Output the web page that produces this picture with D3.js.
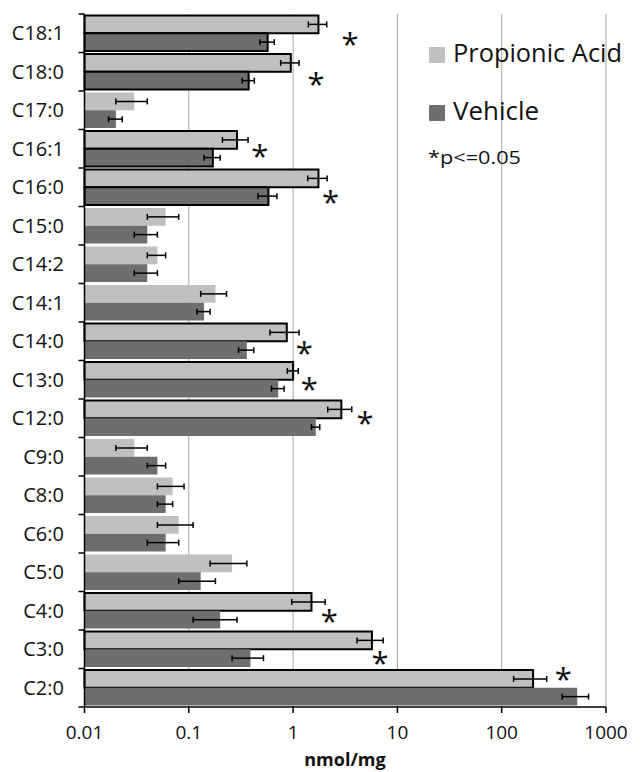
<!DOCTYPE html>
<html>
<head>
<meta charset="utf-8">
<script src="https://cdn.jsdelivr.net/npm/d3@7"></script>
<style>
  body { margin: 0; background: #fff; }
  text { font-family: "Open Sans", sans-serif; }
</style>
</head>
<body>
<script>
// categories top to bottom
var categories = ["C18:1","C18:0","C17:0","C16:1","C16:0","C15:0","C14:2","C14:1","C14:0",
                  "C13:0","C12:0","C9:0","C8:0","C6:0","C5:0","C4:0","C3:0","C2:0"];
// Propionic Acid
var paMean = [1.75, 0.95, 0.030, 0.29, 1.75, 0.060, 0.050, 0.18, 0.87,
              1.0, 2.9, 0.030, 0.070, 0.080, 0.26, 1.5, 5.7, 200];
var paErr  = [0.35, 0.19, 0.010, 0.08, 0.37, 0.020, 0.010, 0.05, 0.27,
              0.12, 0.75, 0.010, 0.020, 0.030, 0.10, 0.53, 1.6, 70];
var paOutlined = [1,1,0,1,1,0,0,0,1, 1,1,0,0,0,0,1,1,1];
// Vehicle
var vhMean = [0.57, 0.375, 0.020, 0.17, 0.58, 0.040, 0.040, 0.14, 0.36,
              0.72, 1.65, 0.050, 0.060, 0.060, 0.13, 0.20, 0.39, 530];
var vhErr  = [0.09, 0.05, 0.003, 0.03, 0.12, 0.010, 0.010, 0.02, 0.06,
              0.10, 0.15, 0.010, 0.010, 0.020, 0.05, 0.09, 0.13, 150];
var vhOutlined = [1,1,0,1,1,0,0,0,0, 0,0,0,0,0,0,0,0,0];
// significance markers: category, x position (nmol/mg), vertical place in band (0-1)
var starCats = ["C18:1","C18:0","C16:1","C16:0","C14:0","C13:0","C12:0","C4:0","C3:0","C2:0"];
var starX    = [3.51, 1.66, 0.48, 2.29, 1.28, 1.43, 4.89, 2.22, 6.81, 389];
var starPos  = [0.62, 0.66, 0.53, 0.73, 0.64, 0.58, 0.46, 0.61, 0.69, 0.12];

var xTicks = [0.01, 0.1, 1, 10, 100, 1000];
var seriesNames = ["Propionic Acid", "Vehicle"];
var colors = ["#c0c0c0", "#6e6e6e"];

var width = 640, height = 772;
var plotLeft = 84.5, plotRight = 606, plotTop = 14, plotBottom = 707;

var svg = d3.select("body").append("svg")
    .attr("width", width)
    .attr("height", height);

var x = d3.scaleLog().domain([0.01, 1000]).range([plotLeft, plotRight]);
var y = d3.scaleBand().domain(categories).range([plotTop, plotBottom]).padding(0);
var sub = d3.scaleBand().domain([0, 1]).range([1.5, y.bandwidth() - 1.5]).padding(0);

/* gridlines */
svg.append("g").selectAll("line")
    .data(xTicks.slice(1))
    .enter().append("line")
    .attr("x1", function(d) { return x(d); })
    .attr("x2", function(d) { return x(d); })
    .attr("y1", plotTop)
    .attr("y2", plotBottom)
    .attr("stroke", "#a6a6a6")
    .attr("stroke-width", 1);

/* bars */
var rows = categories.map(function(c, i) {
    return [
	{cat: c, s: 0, v: paMean[i], e: paErr[i], o: paOutlined[i]},
	{cat: c, s: 1, v: vhMean[i], e: vhErr[i], o: vhOutlined[i]}
    ];
});
var flat = d3.merge(rows);

svg.append("g").selectAll("rect")
    .data(flat)
    .enter().append("rect")
    .attr("x", x(0.01))
    .attr("y", function(d) { return y(d.cat) + sub(d.s); })
    .attr("width", function(d) { return x(d.v) - x(0.01); })
    .attr("height", sub.bandwidth())
    .attr("fill", function(d) { return colors[d.s]; })
    .attr("stroke", function(d) { return d.o ? "#000" : "none"; })
    .attr("stroke-width", 2);

/* error bars */
var eb = svg.append("g").attr("stroke", "#000").attr("stroke-width", 1.5);
flat.forEach(function(d) {
    var cy = y(d.cat) + sub(d.s) + sub.bandwidth() / 2;
    var x1 = x(d.v - d.e), x2 = x(d.v + d.e);
    eb.append("line").attr("x1", x1).attr("x2", x2).attr("y1", cy).attr("y2", cy);
    eb.append("line").attr("x1", x1).attr("x2", x1).attr("y1", cy - 3).attr("y2", cy + 3);
    eb.append("line").attr("x1", x2).attr("x2", x2).attr("y1", cy - 3).attr("y2", cy + 3);
});

/* asterisks */
svg.append("g").selectAll("text")
    .data(starCats)
    .enter().append("text")
    .attr("x", function(d, i) { return x(starX[i]); })
    .attr("y", function(d, i) { return y(d) + starPos[i] * y.bandwidth() + 17; })
    .attr("text-anchor", "middle")
    .attr("font-size", 31)
    .attr("fill", "#111")
    .text("*");

/* y axis */
svg.append("line")
    .attr("x1", plotLeft).attr("x2", plotLeft)
    .attr("y1", plotTop).attr("y2", plotBottom)
    .attr("stroke", "#000").attr("stroke-width", 1.5);
svg.append("g").selectAll("line")
    .data(categories.concat(["end"]))
    .enter().append("line")
    .attr("x1", plotLeft - 6).attr("x2", plotLeft)
    .attr("y1", function(d, i) { return plotTop + i * y.bandwidth(); })
    .attr("y2", function(d, i) { return plotTop + i * y.bandwidth(); })
    .attr("stroke", "#000").attr("stroke-width", 1.5);
svg.append("g").selectAll("text")
    .data(categories)
    .enter().append("text")
    .attr("x", 64)
    .attr("y", function(d) { return y(d) + y.bandwidth() / 2 + 7; })
    .attr("text-anchor", "end")
    .attr("font-size", 20)
    .attr("fill", "#111")
    .text(function(d) { return d; });

/* x axis */
svg.append("line")
    .attr("x1", plotLeft).attr("x2", plotRight)
    .attr("y1", plotBottom).attr("y2", plotBottom)
    .attr("stroke", "#000").attr("stroke-width", 1.5);
svg.append("g").selectAll("line")
    .data(xTicks)
    .enter().append("line")
    .attr("x1", function(d) { return x(d); })
    .attr("x2", function(d) { return x(d); })
    .attr("y1", plotBottom).attr("y2", plotBottom + 6)
    .attr("stroke", "#000").attr("stroke-width", 1.5);
svg.append("g").selectAll("text")
    .data(xTicks)
    .enter().append("text")
    .attr("x", function(d) { return x(d); })
    .attr("y", 739)
    .attr("text-anchor", "middle")
    .attr("font-size", 19)
    .attr("fill", "#111")
    .text(function(d) { return String(d); });
svg.append("text")
    .attr("x", 345)
    .attr("y", 766)
    .attr("text-anchor", "middle")
    .attr("font-size", 18)
    .attr("font-weight", "bold")
    .attr("fill", "#111")
    .text("nmol/mg");

/* legend */
var legY = [47, 105];
var legLen = [169, 86];
seriesNames.forEach(function(n, i) {
    svg.append("rect")
	.attr("x", 429).attr("y", legY[i])
	.attr("width", 16).attr("height", 16)
	.attr("fill", colors[i]);
    svg.append("text")
	.attr("x", 453).attr("y", legY[i] + 15)
	.attr("font-size", 26)
	.attr("textLength", legLen[i])
	.attr("lengthAdjust", "spacingAndGlyphs")
	.attr("fill", "#111")
	.text(n);
});
svg.append("text")
    .attr("x", 428).attr("y", 164)
    .attr("font-size", 19)
    .attr("textLength", 93)
    .attr("lengthAdjust", "spacingAndGlyphs")
    .attr("fill", "#111")
    .text("*p<=0.05");
</script>
</body>
</html>
